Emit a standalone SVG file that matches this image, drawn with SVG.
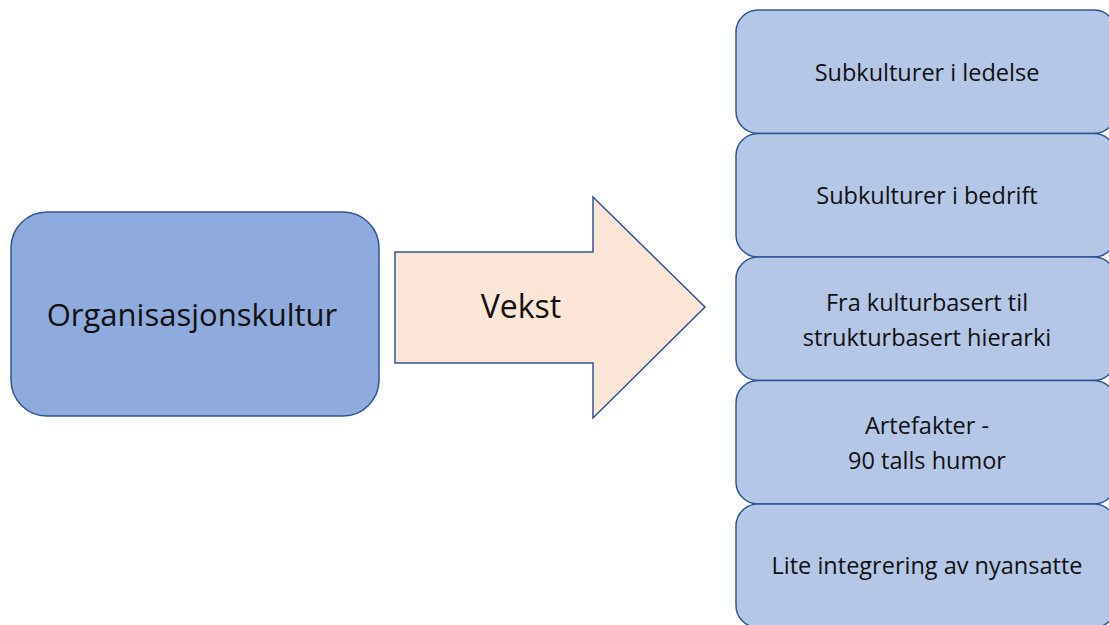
<svg xmlns="http://www.w3.org/2000/svg" width="1109" height="625" viewBox="0 0 1109 625">
<style>
.t{font-family:"Open Sans","Liberation Sans",sans-serif;fill:#111;text-anchor:middle}
.s{font-size:23.5px}
.rb{fill:#B4C7E7;stroke:#2F5597;stroke-width:1.5}
</style>
<rect width="1109" height="625" fill="#fff"/>
<g id="organisasjonskultur">
<rect x="11" y="212" width="368" height="204" rx="36" fill="#8FAADC" stroke="#2F5597" stroke-width="1.5"/>
<text class="t" x="192" y="326" font-size="31">Organisasjonskultur</text>
</g>
<g id="connectors">
<g id="vekst">
<polygon points="395,252 593,252 593,197 705,307 593,418 593,363 395,363" fill="#FBE5D6" stroke="#2F5597" stroke-width="1.5"/>
<text class="t" x="521" y="318" font-size="32">Vekst</text>
</g>
</g>
<g id="n1"><rect class="rb" x="736" y="10" width="380" height="123.5" rx="22"/>
<text class="t s" x="927" y="81">Subkulturer i ledelse</text></g>
<g id="n2"><rect class="rb" x="736" y="133.5" width="380" height="123.5" rx="22"/>
<text class="t s" x="927" y="204">Subkulturer i bedrift</text></g>
<g id="n3"><rect class="rb" x="736" y="257" width="380" height="123.5" rx="22"/>
<text class="t s" x="927" y="311">Fra kulturbasert til</text>
<text class="t s" x="927" y="346">strukturbasert hierarki</text></g>
<g id="n4"><rect class="rb" x="736" y="380.5" width="380" height="123.5" rx="22"/>
<text class="t s" x="927" y="434">Artefakter -</text>
<text class="t s" x="927" y="469">90 talls humor</text></g>
<g id="n5"><rect class="rb" x="736" y="504" width="380" height="123.5" rx="22"/>
<text class="t s" x="927" y="574">Lite integrering av nyansatte</text></g>
</svg>
